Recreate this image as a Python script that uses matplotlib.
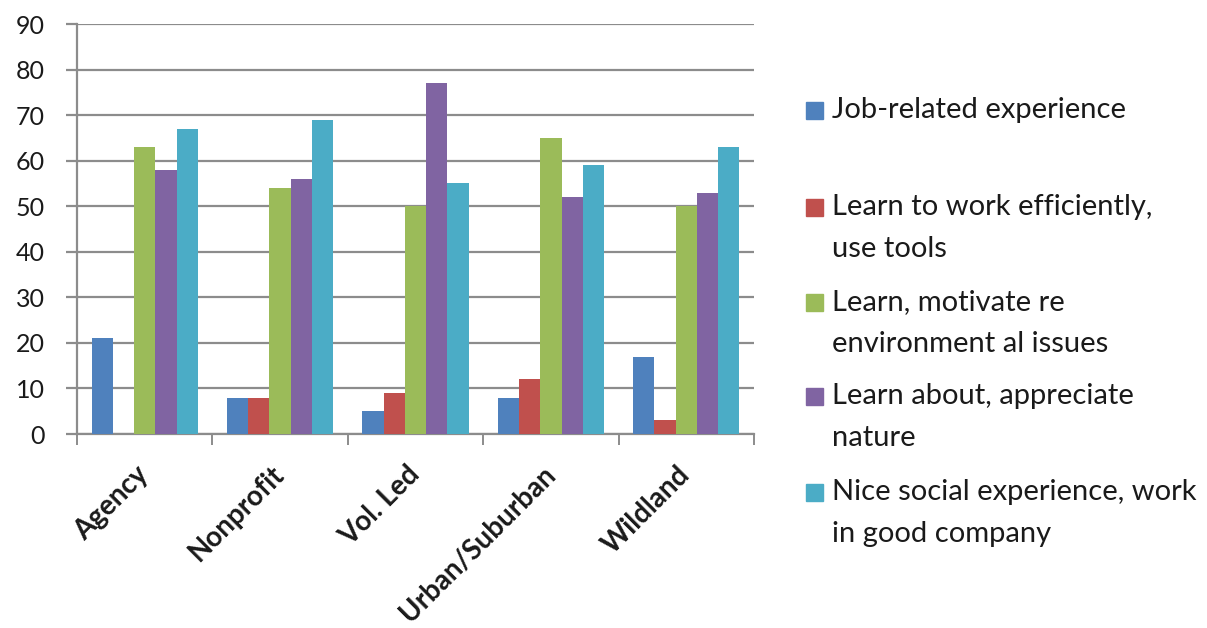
import numpy as np
import matplotlib.pyplot as plt
from matplotlib.patches import Rectangle

plt.rcParams['font.family'] = ['Lato', 'DejaVu Sans']

categories = ["Agency", "Nonprofit", "Vol. Led", "Urban/Suburban", "Wildland"]
series_labels = [
    "Job-related experience",
    "Learn to work efficiently,\nuse tools",
    "Learn, motivate re\nenvironment al issues",
    "Learn about, appreciate\nnature",
    "Nice social experience, work\nin good company",
]
job_related = [21, 8, 5, 8, 17]
work_efficiently = [0, 8, 9, 12, 3]
environmental = [63, 54, 50, 65, 50]
appreciate_nature = [58, 56, 77, 52, 53]
social = [67, 69, 55, 59, 63]
y_ticks = [0, 10, 20, 30, 40, 50, 60, 70, 80, 90]

colors = ["#4F81BD", "#C0504D", "#9BBB59", "#8064A2", "#4BACC6"]
grid_color = "#8C8C8C"
text_color = "#1A1A1A"


def main():
    series = [job_related, work_efficiently, environmental, appreciate_nature, social]

    W, H = 1207, 628
    fig = plt.figure(figsize=(W / 100, H / 100), dpi=100)
    ax = fig.add_axes([77 / W, 1 - 434 / H, (754 - 77) / W, (434 - 24) / H])

    x = np.arange(len(categories))
    bw = 0.1566
    for i, vals in enumerate(series):
        ax.bar(x + (i - 2) * bw, vals, width=bw, color=colors[i], zorder=3)

    ax.set_xlim(-0.5, len(categories) - 0.5)
    ax.set_ylim(0, 90)
    ax.set_yticks(y_ticks)
    ax.yaxis.grid(True, color=grid_color, linewidth=1.6, zorder=1)
    ax.set_axisbelow(True)

    # category boundaries get the tick marks, names sit in the middle
    ax.set_xticks(np.arange(-0.5, len(categories)), labels=[])
    ax.set_xticks(x, labels=categories, minor=True)
    ax.tick_params(axis="x", which="major", length=8, width=1.4, color=grid_color)
    ax.tick_params(axis="x", which="minor", length=0, pad=26)
    for lbl in ax.get_xticklabels(minor=True):
        lbl.set_rotation(45)
        lbl.set_ha("right")
        lbl.set_va("center")
        lbl.set_rotation_mode("anchor")
        lbl.set_fontweight("bold")
        lbl.set_fontsize(20)
        lbl.set_color(text_color)

    ax.tick_params(axis="y", length=8, width=1.6, color=grid_color, pad=15,
                   labelsize=18, labelcolor=text_color)

    for side in ["top", "right"]:
        ax.spines[side].set_visible(False)
    ax.spines["left"].set_color(grid_color)
    ax.spines["left"].set_linewidth(1.6)
    ax.spines["bottom"].set_color(grid_color)
    ax.spines["bottom"].set_linewidth(1.6)

    # legend drawn by hand to get the spacing of the original
    first_line = [110, 207, 302, 396, 492]
    line_step = 42
    for i, label in enumerate(series_labels):
        y0 = first_line[i]
        fig.patches.append(Rectangle((806 / W, 1 - (y0 + 9) / H), 17 / W, 17 / H,
                                     transform=fig.transFigure, color=colors[i]))
        for k, line in enumerate(label.split("\n")):
            fig.text(832 / W, 1 - (y0 + k * line_step) / H, line, fontsize=21,
                     color=text_color, va="center")

    fig.savefig("out.png", dpi=100)


if __name__ == "__main__":
    main()
